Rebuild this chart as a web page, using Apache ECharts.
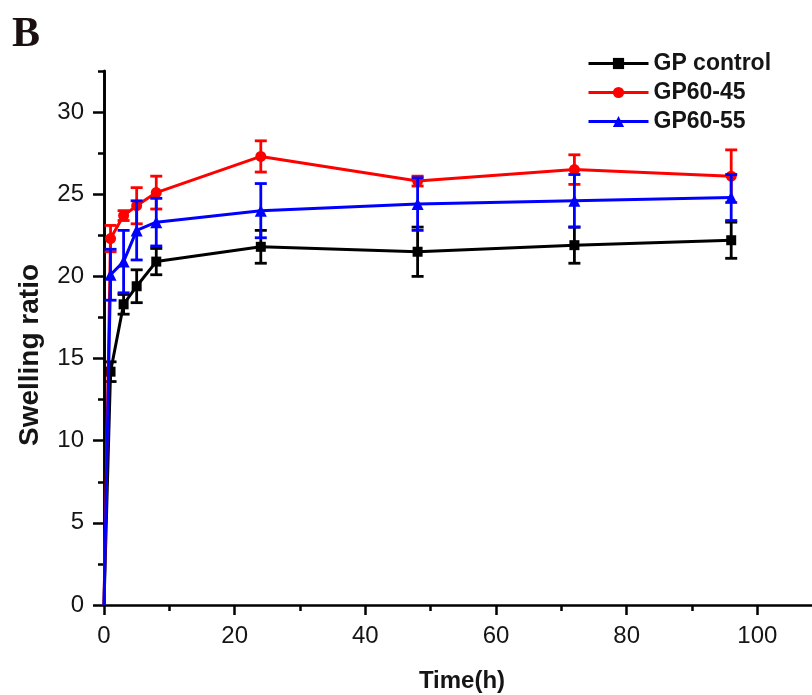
<!DOCTYPE html>
<html>
<head>
<meta charset="utf-8">
<script src="https://cdn.jsdelivr.net/npm/echarts@6/dist/echarts.min.js"></script>
<style>html,body{margin:0;padding:0;background:#fff}#c{width:812px;height:695px}</style>
</head>
<body>
<div id="c"></div>
<script>
const times = [0, 1, 3, 5, 8, 24, 48, 72, 96];
const seriesNames = ['GP control', 'GP60-45', 'GP60-55'];
const gpControl = [0, 14.2, 18.3, 19.4, 20.9, 21.8, 21.5, 21.9, 22.2];
const gpControlErr = [0, 0.6, 0.6, 1.0, 0.8, 1.0, 1.5, 1.1, 1.1];
const gp6045 = [0, 22.3, 23.7, 24.3, 25.1, 27.3, 25.8, 26.5, 26.1];
const gp6045Err = [0, 0.8, 0.3, 1.1, 1.0, 0.95, 0.3, 0.9, 1.6];
const gp6055 = [0, 20.1, 20.9, 22.8, 23.3, 24.0, 24.4, 24.6, 24.8];
const gp6055Err = [0, 1.55, 1.9, 1.8, 1.45, 1.65, 1.6, 1.6, 1.4];
const xTickLabels = [0, 20, 40, 60, 80, 100];
const yTickLabels = [0, 5, 10, 15, 20, 25, 30];

const colors = ['#000000', '#ff0000', '#0000ff'];
const symbols = ['rect', 'circle', 'triangle'];
const symbolSizes = [10, 11, 12];
const values = [gpControl, gp6045, gp6055];
const errs = [gpControlErr, gp6045Err, gp6055Err];

const chart = echarts.init(document.getElementById('c'));
const series = [];
values.forEach((vals, i) => {
  const color = colors[i];
  series.push({
    name: seriesNames[i] + ' err',
    type: 'custom',
    z: 3 + i * 2,
    silent: true,
    data: times.map((t, k) => [t, vals[k] - errs[i][k], vals[k] + errs[i][k]]).filter((d, k) => errs[i][k] > 0),
    encode: { x: 0, y: [1, 2] },
    renderItem: function (params, api) {
      const x = api.value(0);
      const p1 = api.coord([x, api.value(2)]);
      const p2 = api.coord([x, api.value(1)]);
      const hw = 6;
      const st = { stroke: color, lineWidth: 2.8 };
      return {
        type: 'group',
        children: [
          { type: 'line', shape: { x1: p1[0], y1: p1[1], x2: p2[0], y2: p2[1] }, style: st },
          { type: 'line', shape: { x1: p1[0] - hw, y1: p1[1], x2: p1[0] + hw, y2: p1[1] }, style: st },
          { type: 'line', shape: { x1: p2[0] - hw, y1: p2[1], x2: p2[0] + hw, y2: p2[1] }, style: st }
        ]
      };
    }
  });
  series.push({
    name: seriesNames[i],
    type: 'line',
    z: 4 + i * 2,
    symbol: symbols[i],
    symbolSize: symbolSizes[i],
    itemStyle: { color: color },
    lineStyle: { color: color, width: 3 },
    data: times.map((t, k) => k === 0 ? { value: [t, vals[k]], symbol: 'none' } : [t, vals[k]])
  });
});

const FF = 'Liberation Sans, Arial, sans-serif';
const labelFont = { fontFamily: FF, fontSize: 24, color: '#151515' };

chart.setOption({
  animation: false,
  backgroundColor: '#fff',
  grid: { left: 104, top: 71, width: 784, height: 534, outerBoundsMode: 'none', containLabel: false },
  xAxis: {
    type: 'value', min: 0, max: 120, interval: 20,
    axisLine: { show: true, onZero: false, lineStyle: { color: '#000', width: 2.6 } },
    axisTick: { show: true, length: 10, lineStyle: { color: '#000', width: 2.5 } },
    minorTick: { show: true, splitNumber: 2, length: 6, lineStyle: { color: '#000', width: 2.5 } },
    splitLine: { show: false },
    axisLabel: Object.assign({ margin: 19, formatter: v => xTickLabels.includes(v) ? String(v) : '' }, labelFont)
  },
  yAxis: [{
    type: 'value', min: 0, max: 32.5, interval: 2.5,
    axisLine: { show: true, lineStyle: { color: '#000', width: 2.6 } },
    axisTick: { show: true, length: 6, lineStyle: { color: '#000', width: 2.5 } },
    splitLine: { show: false },
    axisLabel: Object.assign({ margin: 20, formatter: v => yTickLabels.includes(v) ? String(v) : '' }, labelFont)
  }, {
    type: 'value', min: 0, max: 32.5, interval: 5, position: 'left', offset: 0,
    axisLine: { show: true, lineStyle: { color: '#000', width: 2.6 } },
    axisTick: { show: true, length: 11, customValues: yTickLabels, lineStyle: { color: '#000', width: 2.5 } },
    axisLabel: { show: false },
    splitLine: { show: false }
  }],
  legend: {
    data: seriesNames,
    orient: 'vertical',
    left: 582, top: 47,
    itemWidth: 60, itemHeight: 14, itemGap: 6,
    lineStyle: { width: 3 },
    textStyle: { fontFamily: FF, fontSize: 23, fontWeight: 'bold', color: '#151515' }
  },
  graphic: [{
    type: 'text', left: 12, top: 14,
    style: { text: 'B', font: 'bold 42px "Liberation Serif", "Times New Roman", serif', fill: '#1a1010' }
  }, {
    type: 'text', x: 462, y: 681,
    style: { text: 'Time(h)', font: 'bold 24px "Liberation Sans", Arial, sans-serif', fill: '#151515', align: 'center', verticalAlign: 'middle' }
  }, {
    type: 'text', x: 30, y: 355, rotation: Math.PI / 2,
    style: { text: 'Swelling ratio', font: 'bold 28px "Liberation Sans", Arial, sans-serif', fill: '#151515', align: 'center', verticalAlign: 'middle' }
  }],
  series: series
});
</script>
</body>
</html>
